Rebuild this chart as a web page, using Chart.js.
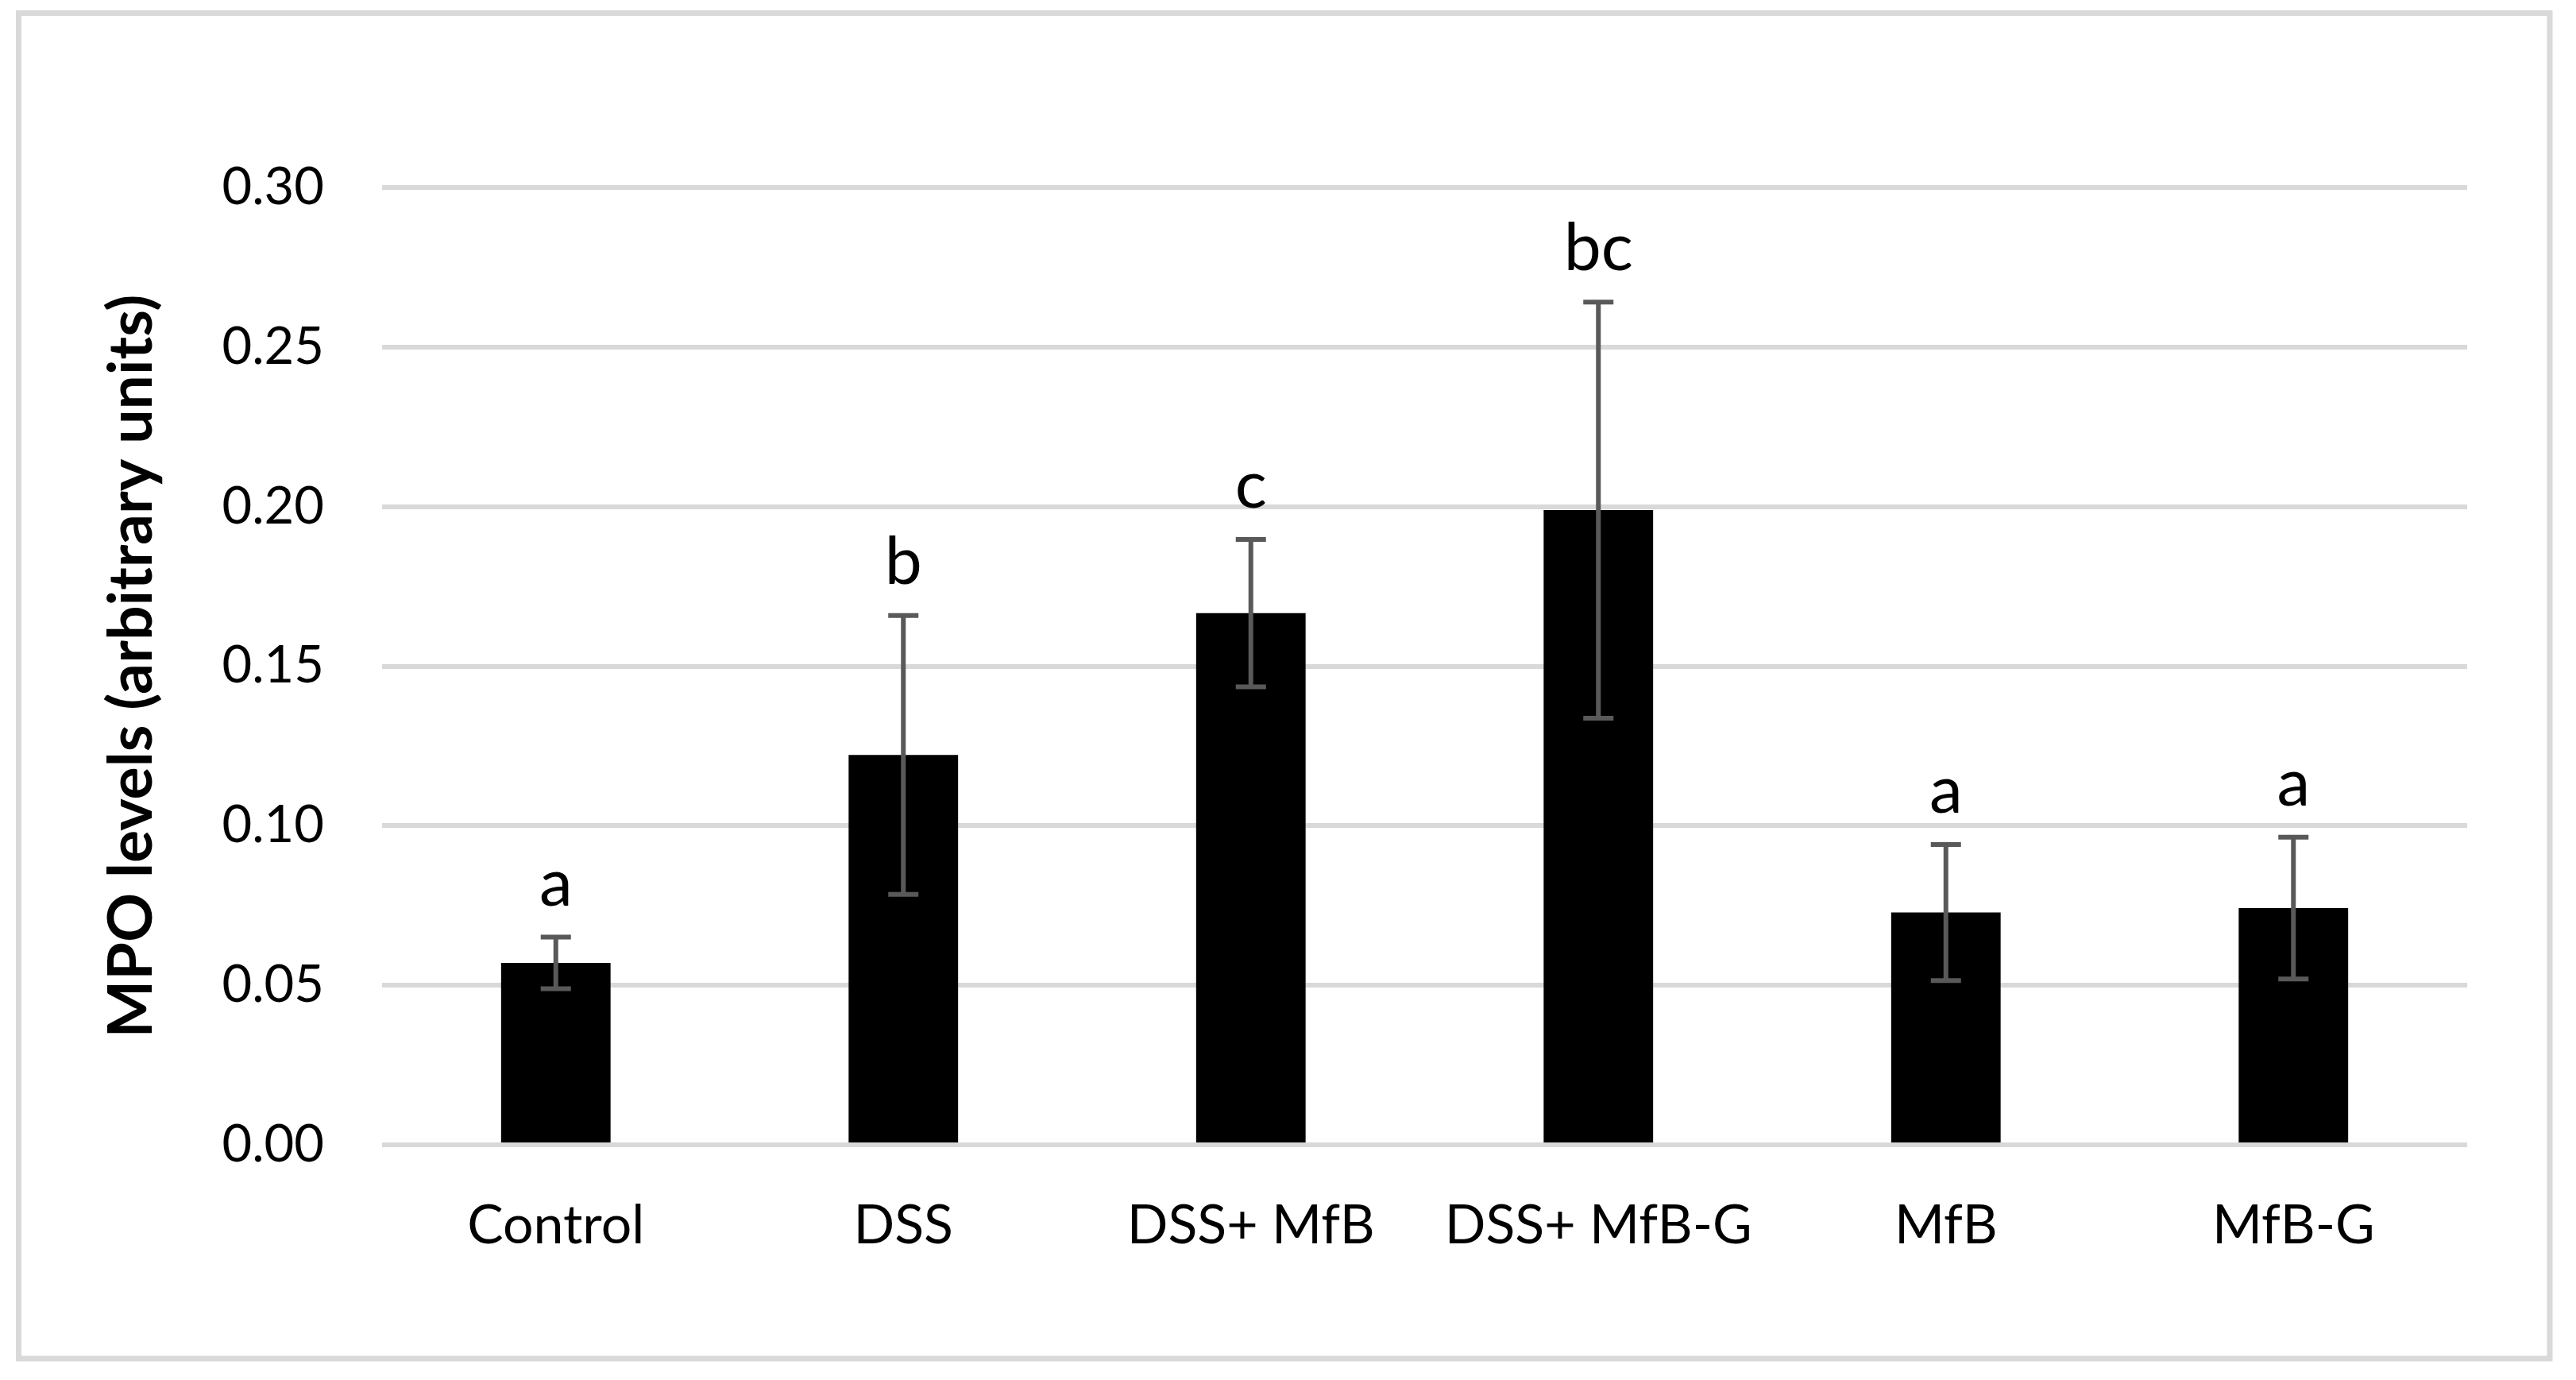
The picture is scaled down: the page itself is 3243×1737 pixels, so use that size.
<!DOCTYPE html>
<html>
<head>
<meta charset="utf-8">
<script src="https://cdn.jsdelivr.net/npm/chart.js@4.4.1/dist/chart.umd.min.js"></script>
<style>
  html, body { margin: 0; padding: 0; background: #fff; }
  canvas { display: block; }
</style>
</head>
<body>
<canvas id="mpoChart" width="3243" height="1737"></canvas>
<script>
// values
const groups = ['Control', 'DSS', 'DSS+ MfB', 'DSS+ MfB-G', 'MfB', 'MfB-G'];
const mpoMeans = [0.057, 0.1222, 0.1666, 0.1989, 0.0728, 0.0742];
const mpoErrors = [0.0081, 0.0437, 0.0231, 0.0652, 0.0213, 0.0222];
const sigLetters = ['a', 'b', 'c', 'bc', 'a', 'a'];
const yTicks = [0, 0.05, 0.10, 0.15, 0.20, 0.25, 0.30];

const FONT = 'Lato, "Open Sans", sans-serif';

const frameBorder = {
  id: 'frameBorder',
  beforeDraw(chart) {
    const ctx = chart.ctx;
    ctx.save();
    ctx.fillStyle = '#ffffff';
    ctx.fillRect(0, 0, chart.width, chart.height);
    ctx.strokeStyle = '#d9d9d9';
    ctx.lineWidth = 7;
    ctx.strokeRect(23.5, 16.5, 3210 - 23.5, 1710 - 16.5);
    ctx.restore();
  }
};

const errorBars = {
  id: 'errorBars',
  afterDatasetsDraw(chart) {
    const ctx = chart.ctx;
    const x = chart.scales.x;
    const y = chart.scales.y;
    ctx.save();
    ctx.strokeStyle = '#595959';
    ctx.lineWidth = 6;
    mpoMeans.forEach((m, i) => {
      const px = x.getPixelForValue(i);
      const top = y.getPixelForValue(m + mpoErrors[i]);
      const bot = y.getPixelForValue(m - mpoErrors[i]);
      ctx.beginPath();
      ctx.moveTo(px, top);
      ctx.lineTo(px, bot);
      ctx.moveTo(px - 19, top);
      ctx.lineTo(px + 19, top);
      ctx.moveTo(px - 19, bot);
      ctx.lineTo(px + 19, bot);
      ctx.stroke();

      // significance letter above the bar
      ctx.fillStyle = '#000000';
      ctx.font = '84px ' + FONT;
      ctx.textAlign = 'center';
      ctx.textBaseline = 'alphabetic';
      ctx.fillText(sigLetters[i], px, top - 40);
    });
    ctx.restore();
  }
};

new Chart(document.getElementById('mpoChart'), {
  type: 'bar',
  data: {
    labels: groups,
    datasets: [{
      label: 'MPO',
      data: mpoMeans,
      backgroundColor: '#000000',
      borderWidth: 0,
      categoryPercentage: 1,
      barPercentage: 0.315,
    }]
  },
  options: {
    responsive: false,
    animation: false,
    devicePixelRatio: 1,
    layout: {
      padding: { left: 128, top: 236, right: 137, bottom: 146 }
    },
    plugins: {
      legend: { display: false },
      tooltip: { enabled: false },
    },
    scales: {
      x: {
        grid: { display: false },
        border: { display: false },
        ticks: {
          color: '#000000',
          font: { family: FONT, size: 68 },
          padding: 53,
          maxRotation: 0,
        },
        afterFit(scale) { scale.height = 150; }
      },
      y: {
        min: 0,
        max: 0.3,
        afterBuildTicks(scale) {
          scale.ticks = yTicks.map(v => ({ value: v }));
        },
        grid: {
          color: '#d9d9d9',
          lineWidth: 6,
          drawTicks: false,
        },
        border: { display: false },
        ticks: {
          color: '#000000',
          font: { family: FONT, size: 65 },
          padding: 73,
          callback: v => v.toFixed(2),
        },
        title: {
          display: true,
          text: 'MPO levels (arbitrary units)',
          color: '#000000',
          font: { family: FONT, size: 77, weight: 'bold', lineHeight: 1 },
          padding: 0,
        },
        afterFit(scale) { scale.width = 481 - 128; }
      }
    }
  },
  plugins: [frameBorder, errorBars]
});
</script>
</body>
</html>
